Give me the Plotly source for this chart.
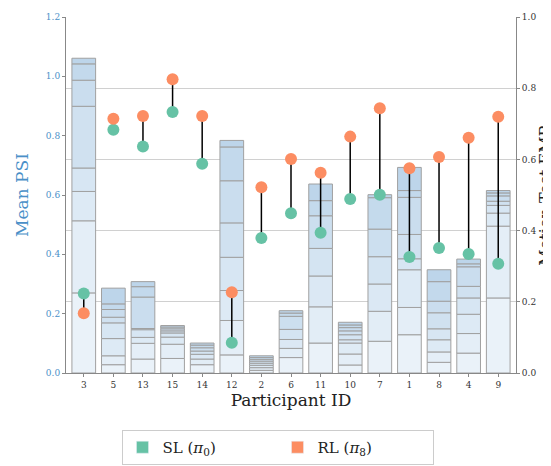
import plotly.graph_objects as go

participants = ["3","5","13","15","14","12","2","6","11","10","7","1","8","4","9"]
# stacked segment boundaries (Mean PSI) from bottom to top, per participant
psi_bounds = [
    [0.270,0.513,0.612,0.691,0.899,0.987,1.042,1.061],
    [0.028,0.058,0.116,0.169,0.188,0.214,0.233,0.286],
    [0.047,0.100,0.120,0.146,0.150,0.256,0.291,0.308],
    [0.049,0.097,0.121,0.135,0.142,0.149,0.155,0.160],
    [0.028,0.047,0.063,0.074,0.085,0.094,0.101],
    [0.061,0.177,0.278,0.390,0.506,0.648,0.762,0.784],
    [0.009,0.018,0.026,0.033,0.040,0.046,0.052,0.058],
    [0.052,0.083,0.113,0.147,0.191,0.202,0.210],
    [0.101,0.223,0.327,0.420,0.530,0.581,0.637],
    [0.027,0.064,0.101,0.112,0.129,0.142,0.153,0.162,0.171],
    [0.107,0.208,0.300,0.392,0.485,0.591,0.601],
    [0.129,0.221,0.348,0.385,0.467,0.592,0.615,0.693],
    [0.036,0.071,0.112,0.149,0.203,0.242,0.308,0.348],
    [0.067,0.133,0.198,0.253,0.292,0.358,0.368,0.384],
    [0.253,0.495,0.539,0.565,0.579,0.597,0.607,0.615],
]
sl_emr = [0.223,0.683,0.636,0.733,0.588,0.085,0.379,0.449,0.394,0.489,0.501,0.326,0.351,0.334,0.307]
rl_emr = [0.168,0.714,0.722,0.825,0.722,0.227,0.522,0.601,0.5625,0.664,0.744,0.575,0.607,0.661,0.720]

SL_C = "#66c2a5"; RL_C = "#fc8d62"
FONT = "DejaVu Serif"

def blue(t):
    a = (234, 242, 249); b = (189, 213, 234)
    return "rgb(%d,%d,%d)" % tuple(round(a[i] + (b[i]-a[i])*t) for i in range(3))

fig = go.Figure()
maxn = max(len(b) for b in psi_bounds)
for k in range(maxn):
    xs, bases, hs, cols = [], [], [], []
    for p, b in zip(participants, psi_bounds):
        if k < len(b):
            lo = 0 if k == 0 else b[k-1]
            xs.append(p); bases.append(lo); hs.append(b[k]-lo)
            cols.append(blue(k/(len(b)-1)))
    fig.add_trace(go.Bar(x=xs, y=hs, base=bases, marker=dict(color=cols, line=dict(color="#a0a0a0", width=1)),
                         showlegend=False, hoverinfo="skip", yaxis="y"))

lx, ly = [], []
for p, s, r in zip(participants, sl_emr, rl_emr):
    lx += [p, p, None]; ly += [s, r, None]
fig.add_trace(go.Scatter(x=lx, y=ly, mode="lines", line=dict(color="black", width=1.5),
                         showlegend=False, yaxis="y2", hoverinfo="skip"))
fig.add_trace(go.Scatter(x=participants, y=sl_emr, mode="markers", marker=dict(color=SL_C, size=12),
                         showlegend=False, yaxis="y2"))
fig.add_trace(go.Scatter(x=participants, y=rl_emr, mode="markers", marker=dict(color=RL_C, size=12),
                         showlegend=False, yaxis="y2"))
# legend patches
fig.add_trace(go.Bar(x=[None], y=[None], marker_color=SL_C, name="SL (<i>π</i><sub>0</sub>)"))
fig.add_trace(go.Bar(x=[None], y=[None], marker_color=RL_C, name="RL (<i>π</i><sub>8</sub>)"))

fig.update_layout(
    width=551, height=466, barmode="overlay", bargap=0.2,
    margin=dict(l=58, r=43, t=9, b=89),
    plot_bgcolor="white", paper_bgcolor="white",
    font=dict(family=FONT, size=9, color="#333"),
    xaxis=dict(type="category", categoryorder="array", categoryarray=participants,
               title=dict(text="Participant ID", font=dict(size=17, color="#222"), standoff=4),
               showline=True, linecolor="#888", ticks="outside", ticklen=3, tickcolor="#888",
               range=[-0.6, 14.6], automargin=False),
    yaxis=dict(range=[0, 1.2], dtick=0.2, tickformat=".1f", showgrid=False,
               title=dict(text="Mean PSI", font=dict(size=17, color="#4a90c8"), standoff=12),
               tickfont=dict(color="#4a90c8", size=9), showline=True, linecolor="#888",
               ticks="outside", ticklen=3, tickcolor="#888", zeroline=False, automargin=False),
    yaxis2=dict(range=[0, 1.0], dtick=0.2, tickformat=".1f", overlaying="y", side="right",
                showgrid=True, gridcolor="#d0d0d0", gridwidth=1,
                title=dict(text="Motion Test EMR", font=dict(size=16, color="#222"), standoff=4),
                showline=True, linecolor="#888", ticks="outside", ticklen=3, tickcolor="#888",
                zeroline=False, automargin=False),
    legend=dict(orientation="h", x=0.47, xanchor="center", y=-0.16, yanchor="top",
                bordercolor="#ccc", borderwidth=1, font=dict(size=15, color="#222"),
                entrywidth=110),
)
fig.write_html("out.html")
